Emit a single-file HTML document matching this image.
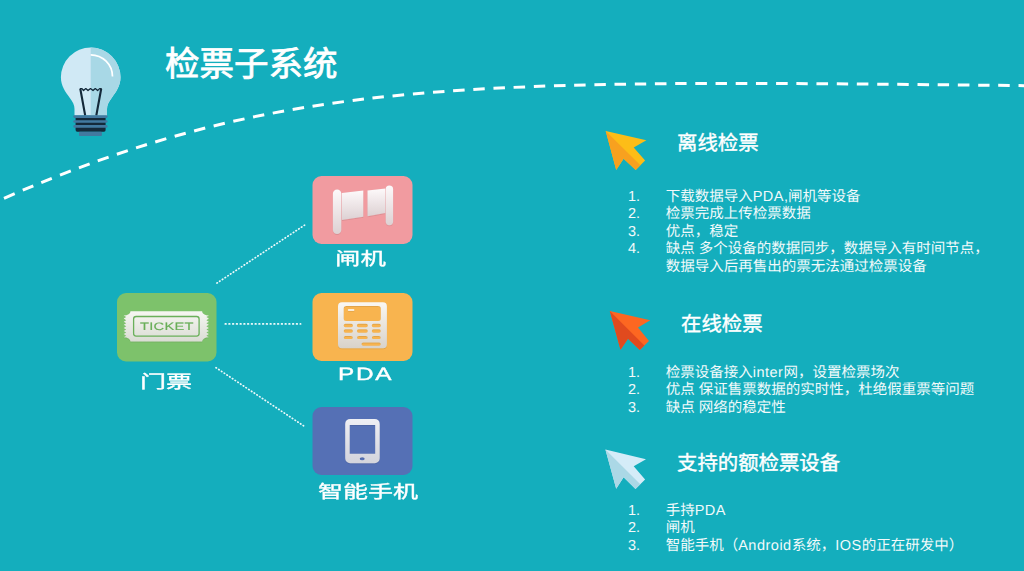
<!DOCTYPE html>
<html lang="zh-CN"><head><meta charset="utf-8">
<style>
html,body{margin:0;padding:0;}
body{text-rendering:geometricPrecision;width:1024px;height:571px;overflow:hidden;background:#14aebd;position:relative;font-family:"Liberation Sans",sans-serif;color:#fff;}
.abs{position:absolute;}
svg.full{position:absolute;left:0;top:0;}
.title{left:165px;top:39.5px;font-size:34.5px;font-weight:normal;-webkit-text-stroke:0.8px #fff;line-height:50px;white-space:nowrap;}
.box{position:absolute;width:100px;height:68px;border-radius:9px;}
.lbl{position:absolute;font-size:18px;font-weight:normal;-webkit-text-stroke:0.35px #fff;line-height:20px;white-space:nowrap;transform-origin:0 0;}
.h2{position:absolute;font-size:20.4px;font-weight:normal;-webkit-text-stroke:0.4px #fff;line-height:24px;white-space:nowrap;}
.list{position:absolute;font-size:14.5px;line-height:17.5px;white-space:nowrap;color:#f2fafb;}
.list .n{position:absolute;left:0;}
.list i{font-style:normal;letter-spacing:0.5px;}
.list .t{position:absolute;left:37.7px;}
</style></head>
<body>
<svg class="full" width="1024" height="571" viewBox="0 0 1024 571">
  <path d="M -2 200.9 C 281.8 75.9, 470.3 79.9, 1026 85.65" fill="none" stroke="#fff" stroke-width="3" stroke-dasharray="11.5 8.7" stroke-dashoffset="-6.4"/>
  <!-- dotted connectors -->
  <g stroke="#fff" stroke-opacity="0.92" stroke-width="1.7" stroke-linecap="round" fill="none">
    <line x1="216.9" y1="283.1" x2="306.9" y2="223.6" stroke-dasharray="0.5 2.77"/>
    <line x1="225.3" y1="323.9" x2="300.6" y2="323.9" stroke-dasharray="0.7 3.05"/>
    <line x1="216" y1="367.7" x2="305.8" y2="427.3" stroke-dasharray="0.5 2.77"/>
  </g>
  <!-- bulb -->
  <g>
    <path d="M60.9 77.3 A29.8 29.8 0 0 1 120.5 77.3 C120.5 86 116 92 112 97.5 C108.5 102 107 105 107 109 L107 115.5 L74.5 115.5 L74.5 109 C74.5 105 73 102 69.5 97.5 C65.5 92 60.9 86 60.9 77.3 Z" fill="#d0e9f5"/>
    <path d="M90.7 47.5 A29.8 29.8 0 0 1 120.5 77.3 C120.5 86 116 92 112 97.5 C108.5 102 107 105 107 109 L107 115.5 L90.7 115.5 Z" fill="#a8d8e6"/>
    <path d="M90.7 54.8 A21.8 21.8 0 0 1 112.5 76.6" fill="none" stroke="#fff" stroke-width="1.7"/>
    <path d="M80.3 88.8 L85.2 115.5 M101.2 88.8 L96.3 115.5" stroke="#14293a" stroke-width="2.1" fill="none"/>
    <path d="M79.8 88.6 L82 88.6 L83.5 90.6 L85.8 88.6 L88 90.6 L90.5 88.6 L93 90.6 L95.3 88.6 L97.6 90.6 L99.6 88.6 L101.7 88.6" stroke="#14293a" stroke-width="1.3" fill="none" stroke-linejoin="round"/>
    <rect x="75.6" y="117" width="30" height="14.7" rx="1.6" fill="#14293a"/>
    <rect x="73.3" y="115.2" width="34.3" height="2.7" rx="1.35" fill="#4279a0"/>
    <rect x="73.3" y="120.2" width="34.3" height="2.6" rx="1.3" fill="#4279a0"/>
    <rect x="73.3" y="125.1" width="34.3" height="2.6" rx="1.3" fill="#4279a0"/>
    <rect x="79" y="131.7" width="22.9" height="4.3" rx="0.8" fill="#4279a0"/>
  </g>
</svg>

<div class="abs title">检票子系统</div>

<!-- boxes + icons -->
<svg class="full" width="1024" height="571" viewBox="0 0 1024 571">
  <defs>
    <filter id="sh" x="-20%" y="-20%" width="140%" height="140%"><feDropShadow dx="0" dy="0.4" stdDeviation="0.6" flood-color="#000" flood-opacity="0.22"/></filter>
    <linearGradient id="gw" x1="0" y1="0" x2="0" y2="1">
      <stop offset="0" stop-color="#fdf9fa"/><stop offset="1" stop-color="#ddd1d3"/>
    </linearGradient>
    <linearGradient id="gc" x1="0" y1="0" x2="0" y2="1">
      <stop offset="0" stop-color="#faf7f2"/><stop offset="1" stop-color="#d8d2ca"/>
    </linearGradient>
    <linearGradient id="gp" x1="0" y1="0" x2="0" y2="1">
      <stop offset="0" stop-color="#eeeff4"/><stop offset="1" stop-color="#d3d4dc"/>
    </linearGradient>
    <linearGradient id="gt" x1="0" y1="0" x2="0" y2="1">
      <stop offset="0" stop-color="#f6f7f2"/><stop offset="1" stop-color="#dadcd4"/>
    </linearGradient>
  </defs>
  <rect x="117" y="293" width="99.5" height="68.5" rx="9" fill="#7dc26b"/>
  <rect x="312.5" y="176" width="100" height="68" rx="9" fill="#f19ba0"/>
  <rect x="312.5" y="293" width="100" height="68" rx="9" fill="#f8b44f"/>
  <rect x="312.5" y="407" width="100" height="68" rx="9" fill="#5570b5"/>

  <!-- gate -->
  <g filter="url(#sh)">
    <rect x="332.9" y="189.5" width="8.4" height="44.6" rx="4.2" fill="url(#gw)"/>
    <path d="M341.8 193.1 L363.3 190.5 L363.3 216.8 L341.8 219.9 Z" fill="url(#gw)"/>
    <path d="M367.5 190.5 L385.4 188.6 L385.4 213.1 L367.5 216.2 Z" fill="url(#gw)"/>
    <rect x="385.7" y="185.5" width="7.4" height="39.7" rx="3.7" fill="url(#gw)"/>
  </g>
  <!-- calculator -->
  <g filter="url(#sh)">
    <path fill="url(#gc)" fill-rule="evenodd" d="
      M342 302.3 H382.9 A4 4 0 0 1 386.9 306.3 V344.3 A4 4 0 0 1 382.9 348.3 H342 A4 4 0 0 1 338 344.3 V306.3 A4 4 0 0 1 342 302.3 Z
      M346.2 306.1 H378.3 A2.5 2.5 0 0 1 380.8 308.6 V318.4 A2.5 2.5 0 0 1 378.3 320.9 H346.2 A2.5 2.5 0 0 1 343.7 318.4 V308.6 A2.5 2.5 0 0 1 346.2 306.1 Z
      M345.4 323.7 H351.2 A1.7 1.7 0 0 1 351.2 327.2 H345.4 A1.7 1.7 0 0 1 345.4 323.7 Z
      M358.6 323.7 H366.1 A1.7 1.7 0 0 1 366.1 327.2 H358.6 A1.7 1.7 0 0 1 358.6 323.7 Z
      M373.5 323.7 H379.1 A1.7 1.7 0 0 1 379.1 327.2 H373.5 A1.7 1.7 0 0 1 373.5 323.7 Z
      M345.4 329.3 H351.2 A1.7 1.7 0 0 1 351.2 332.7 H345.4 A1.7 1.7 0 0 1 345.4 329.3 Z
      M358.6 329.3 H366.1 A1.7 1.7 0 0 1 366.1 332.7 H358.6 A1.7 1.7 0 0 1 358.6 329.3 Z
      M373.5 329.3 H379.1 A1.7 1.7 0 0 1 379.1 332.7 H373.5 A1.7 1.7 0 0 1 373.5 329.3 Z
      M345.4 335.9 H351.2 A1.6 1.6 0 0 1 351.2 339.1 H345.4 A1.6 1.6 0 0 1 345.4 335.9 Z
      M358.6 335.9 H366.1 A1.6 1.6 0 0 1 366.1 339.1 H358.6 A1.6 1.6 0 0 1 358.6 335.9 Z
      M373.5 335.9 H379.1 A1.6 1.6 0 0 1 379.1 339.1 H373.5 A1.6 1.6 0 0 1 373.5 335.9 Z
      M363.2 342.4 H379.1 A1.7 1.7 0 0 1 379.1 345.8 H363.2 A1.7 1.7 0 0 1 363.2 342.4 Z"/>
    <rect x="347.8" y="309.2" width="6.6" height="1.5" rx="0.7" fill="#fff"/>
  </g>
  <!-- phone -->
  <g filter="url(#sh)">
    <path fill="url(#gp)" fill-rule="evenodd" d="
      M350.2 418.9 H374.7 A5 5 0 0 1 379.7 423.9 V458.3 A5 5 0 0 1 374.7 463.3 H350.2 A5 5 0 0 1 345.2 458.3 V423.9 A5 5 0 0 1 350.2 418.9 Z
      M349.7 425 H375.2 V453.7 H349.7 Z
      M364.7 458.8 A2.5 1.5 0 0 1 359.7 458.8 A2.5 1.5 0 0 1 364.7 458.8 Z"/>
  </g>
  <!-- ticket -->
  <g filter="url(#sh)">
    <path fill="url(#gt)" d="M130.5 311.2 H202.1 A6.6 4.3 0 0 0 208.7 315.5 V337.2 A6.6 4.3 0 0 0 202.1 341.5 H130.5 A6.6 4.3 0 0 0 123.9 337.2 V315.5 A6.6 4.3 0 0 0 130.5 311.2 Z"/>
    <path fill="#7dc26b" d="M123.70 315.50 L126.20 317.05 L123.70 318.60 L126.20 320.15 L123.70 321.70 L126.20 323.25 L123.70 324.80 L126.20 326.35 L123.70 327.90 L126.20 329.45 L123.70 331.00 L126.20 332.55 L123.70 334.10 L126.20 335.65 L123.70 337.20 Z"/>
    <path fill="#7dc26b" d="M208.90 315.50 L206.40 317.05 L208.90 318.60 L206.40 320.15 L208.90 321.70 L206.40 323.25 L208.90 324.80 L206.40 326.35 L208.90 327.90 L206.40 329.45 L208.90 331.00 L206.40 332.55 L208.90 334.10 L206.40 335.65 L208.90 337.20 Z"/>
    <rect x="133.6" y="316.5" width="65.5" height="19.6" rx="2.5" fill="none" stroke="#6ab05a" stroke-width="1.3"/>
  </g>
</svg>
<div class="abs" style="left:139.5px;top:321px;font-size:10.8px;line-height:12px;color:#68ae58;-webkit-text-stroke:0.15px #68ae58;transform:scaleX(1.36);transform-origin:0 0;letter-spacing:0.2px;">TICKET</div>

<div class="lbl" style="left:140px;top:371.5px;transform:scaleX(1.45);">门票</div>
<div class="lbl" style="left:334.7px;top:248.5px;transform:scaleX(1.41);">闸机</div>
<div class="lbl" style="left:338px;top:364px;transform:scaleX(1.35);letter-spacing:1.3px;-webkit-text-stroke:0.4px #fff;">PDA</div>
<div class="lbl" style="left:318.3px;top:482px;transform:scaleX(1.39);">智能手机</div>

<!-- arrows -->
<svg class="full" width="1024" height="571" viewBox="0 0 1024 571">
  <g><path d="M605.7 131.0 L646.4 140.3 L633.7 147.6 L645.1 160.5 L635.7 170.1 L623.6 158.7 L616.2 170.1 Z" fill="#fdbd17"/><path d="M605.7 131.0 L640.4 165.3 L635.7 170.1 L623.6 158.7 L616.2 170.1 Z" fill="#f8a11f"/></g>
  <g><path d="M609.8 311.0 L650.3 320.3 L638.0 327.6 L649.0 340.9 L639.8 350.1 L628.0 338.7 L620.5 349.7 Z" fill="#fd6721"/><path d="M609.8 311.0 L644.4 345.5 L639.8 350.1 L628.0 338.7 L620.5 349.7 Z" fill="#e14a1e"/></g>
  <g><path d="M605.4 449.4 L646.0 459.3 L633.7 466.3 L645.1 479.5 L635.5 489.1 L623.6 477.3 L616.2 488.7 Z" fill="#d5ecf8"/><path d="M605.4 449.4 L640.3 484.3 L635.5 489.1 L623.6 477.3 L616.2 488.7 Z" fill="#abd8e6"/></g>
</svg>

<div class="h2" style="left:677px;top:131.5px;">离线检票</div>
<div class="list" style="left:628px;top:188.5px;">
  <div style="position:relative;height:17.5px"><span class="n">1.</span><span class="t">下载数据导入<i>PDA</i>,闸机等设备</span></div>
  <div style="position:relative;height:17.5px"><span class="n">2.</span><span class="t">检票完成上传检票数据</span></div>
  <div style="position:relative;height:17.5px"><span class="n">3.</span><span class="t">优点，稳定</span></div>
  <div style="position:relative;height:17.5px"><span class="n">4.</span><span class="t">缺点 多个设备的数据同步，数据导入有时间节点，</span></div>
  <div style="position:relative;height:17.5px"><span class="t">数据导入后再售出的票无法通过检票设备</span></div>
</div>

<div class="h2" style="left:681px;top:312.5px;">在线检票</div>
<div class="list" style="left:628px;top:364.5px;">
  <div style="position:relative;height:17.5px"><span class="n">1.</span><span class="t">检票设备接入<i>inter</i>网，设置检票场次</span></div>
  <div style="position:relative;height:17.5px"><span class="n">2.</span><span class="t">优点 保证售票数据的实时性，杜绝假重票等问题</span></div>
  <div style="position:relative;height:17.5px"><span class="n">3.</span><span class="t">缺点 网络的稳定性</span></div>
</div>

<div class="h2" style="left:677px;top:451.5px;">支持的额检票设备</div>
<div class="list" style="left:628px;top:502.5px;">
  <div style="position:relative;height:17.5px"><span class="n">1.</span><span class="t">手持<i>PDA</i></span></div>
  <div style="position:relative;height:17.5px"><span class="n">2.</span><span class="t">闸机</span></div>
  <div style="position:relative;height:17.5px"><span class="n">3.</span><span class="t">智能手机（<i>Android</i>系统，<i>IOS</i>的正在研发中）</span></div>
</div>

</body></html>
